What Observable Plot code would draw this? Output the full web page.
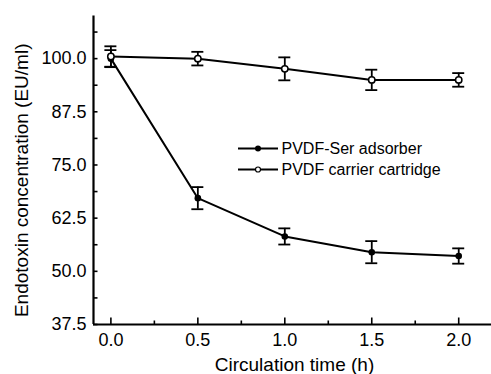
<!DOCTYPE html>
<html><head><meta charset="utf-8">
<script src="https://cdn.jsdelivr.net/npm/d3@7"></script>
<script src="https://cdn.jsdelivr.net/npm/@observablehq/plot@0.6"></script>
<style>body{margin:0;background:#fff}</style>
</head><body><div id="chart"></div>
<script>
const times = [0, 0.5, 1.0, 1.5, 2.0];
const serMean = [100.0, 67.2, 58.2, 54.5, 53.6];
const serErr = [2.0, 2.6, 1.9, 2.6, 1.8];
const carrierMean = [100.5, 100.0, 97.6, 95.0, 95.0];
const carrierErr = [2.4, 1.6, 2.7, 2.4, 1.6];
const seriesNames = ["PVDF-Ser adsorber", "PVDF carrier cartridge"];
const xTicks = [0, 0.5, 1.0, 1.5, 2.0];
const xMinorTicks = [0.25, 0.75, 1.25, 1.75];
const yTicks = [37.5, 50.0, 62.5, 75.0, 87.5, 100.0];
const yMinorTicks = [43.75, 56.25, 68.75, 81.25, 93.75, 106.25];
const xTitle = "Circulation time (h)";
const yTitle = "Endotoxin concentration (EU/ml)";
const xDomain = [-0.1, 2.2];
const yDomain = [37.5, 110];

const serRows = times.map((t, i) => ({series: seriesNames[0], t, mean: serMean[i], err: serErr[i]}));
const carRows = times.map((t, i) => ({series: seriesNames[1], t, mean: carrierMean[i], err: carrierErr[i]}));
const rows = serRows.concat(carRows);

const legendLine = {draw(ctx) { ctx.moveTo(-20, 0); ctx.lineTo(20, 0); }};
const font = "'Liberation Sans', Arial, sans-serif";

const chart = Plot.plot({
  width: 491, height: 374,
  marginLeft: 93, marginRight: -2, marginTop: 15.6, marginBottom: 50,
  style: {fontFamily: font, fontSize: "18px", background: "white", color: "black", overflow: "visible"},
  x: {domain: xDomain},
  y: {domain: yDomain},
  marks: [
    Plot.axisX(xTicks, {tickSize: 0, tickPadding: 9, tickFormat: d3.format(".1f"), label: null, fontSize: 18}),
    Plot.axisY(yTicks, {tickSize: 0, tickPadding: 7, tickFormat: d3.format(".1f"), label: null, fontSize: 18}),
    Plot.ruleX(xTicks, {x: d => d, y1: yDomain[0], y2: yDomain[0], insetTop: -6.5, strokeWidth: 1.6}),
    Plot.ruleX(xMinorTicks, {x: d => d, y1: yDomain[0], y2: yDomain[0], insetTop: -3.5, strokeWidth: 1.6}),
    Plot.ruleY(yTicks, {y: d => d, x1: xDomain[0], x2: xDomain[0], insetRight: -4.5, strokeWidth: 1.6}),
    Plot.ruleY(yMinorTicks, {y: d => d, x1: xDomain[0], x2: xDomain[0], insetRight: -4.5, strokeWidth: 1.6}),
    Plot.ruleX([xDomain[0]], {strokeWidth: 2.2}),
    Plot.ruleY([yDomain[0]], {strokeWidth: 2.2}),
    Plot.text([xTitle], {frameAnchor: "bottom", dy: 46, lineAnchor: "bottom", textAnchor: "middle", fontSize: 19, dx: 1}),
    Plot.text([yTitle], {frameAnchor: "left", rotate: -90, dx: -66, dy: 10, lineAnchor: "bottom", textAnchor: "middle", fontSize: 19}),
    Plot.line(serRows, {x: "t", y: "mean", stroke: "black", strokeWidth: 2}),
    Plot.line(carRows, {x: "t", y: "mean", stroke: "black", strokeWidth: 2}),
    Plot.ruleX(rows, {x: "t", y1: d => d.mean - d.err, y2: d => d.mean + d.err, strokeWidth: 1.8}),
    Plot.ruleY(rows, {y: d => d.mean + d.err, x1: "t", x2: "t", insetLeft: -6, insetRight: -6, strokeWidth: 1.8}),
    Plot.ruleY(rows, {y: d => d.mean - d.err, x1: "t", x2: "t", insetLeft: -6, insetRight: -6, strokeWidth: 1.8}),
    Plot.dot(serRows, {x: "t", y: "mean", r: 3.3, fill: "black"}),
    Plot.dot(carRows, {x: "t", y: "mean", r: 3.2, fill: "white", stroke: "black", strokeWidth: 1.5}),
    // legend
    Plot.dot(seriesNames, {frameAnchor: "top-left", dx: 164.5, dy: 132.4, symbol: legendLine, r: 5, stroke: "black", strokeWidth: 2, fill: "none", filter: (d, i) => i === 0}),
    Plot.dot(seriesNames, {frameAnchor: "top-left", dx: 164.5, dy: 153.4, symbol: legendLine, r: 5, stroke: "black", strokeWidth: 2, fill: "none", filter: (d, i) => i === 1}),
    Plot.dot(seriesNames, {frameAnchor: "top-left", dx: 164.5, dy: 132.4, r: 3, fill: "black", filter: (d, i) => i === 0}),
    Plot.dot(seriesNames, {frameAnchor: "top-left", dx: 164.5, dy: 153.4, r: 2.5, fill: "white", stroke: "black", strokeWidth: 1.2, filter: (d, i) => i === 1}),
    Plot.text(seriesNames, {frameAnchor: "top-left", dx: 188, dy: 132.4, text: d => d, textAnchor: "start", lineAnchor: "middle", fontSize: 16, filter: (d, i) => i === 0}),
    Plot.text(seriesNames, {frameAnchor: "top-left", dx: 188, dy: 153.4, text: d => d, textAnchor: "start", lineAnchor: "middle", fontSize: 16, filter: (d, i) => i === 1})
  ]
});
document.getElementById("chart").appendChild(chart);
</script>
</body></html>
